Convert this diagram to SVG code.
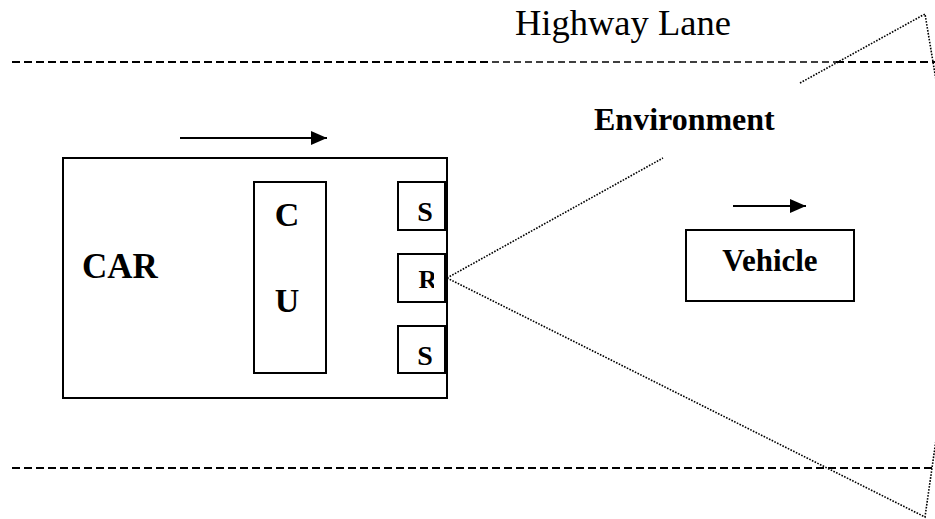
<svg xmlns="http://www.w3.org/2000/svg" width="935" height="519" viewBox="0 0 935 519">
<style>
.box{fill:#fff;stroke:#000;stroke-width:2}
.ln{stroke:#000;stroke-width:2;fill:none}
.lane{stroke:#000;stroke-width:2;stroke-dasharray:8 4;fill:none}
.lanethin{stroke:#000;stroke-width:1.4;stroke-dasharray:7 4;fill:none}
.dot{stroke:#000;stroke-width:1.6;stroke-dasharray:1.6 1.4;fill:none}
.b{font-family:"Liberation Serif","Times New Roman",serif;font-weight:bold;fill:#000}
.r{font-family:"Liberation Serif","Times New Roman",serif;fill:#000}
</style>
<defs>
<marker id="ah" viewBox="0 0 10 10" refX="10" refY="5" markerWidth="8" markerHeight="7" orient="auto" markerUnits="strokeWidth" preserveAspectRatio="none">
<path d="M0,0 L10,5 L0,10 Z" fill="#000"/>
</marker>
<clipPath id="rclip"><rect x="398" y="254" width="36" height="48"/></clipPath>
</defs>
<rect width="935" height="519" fill="#fff"/>
<g id="lanes">
<path class="lane" d="M12,62 H492"/>
<path class="lanethin" d="M492,62 H836"/>
<path class="lane" d="M836,62 H935"/>
<path class="lane" d="M12,468 H935"/>
</g>
<g id="highway-label"><text class="r" x="515" y="35" font-size="36.5">Highway Lane</text></g>
<g id="cone">
<path class="dot" d="M447,278 L663,158"/>
<path class="dot" d="M800,83 L925,14 L936,80"/>
<path class="dot" d="M447,278 L925,517 L936,440"/>
</g>
<g id="environment"><text class="b" x="594" y="130" font-size="32">Environment</text></g>
<g id="connectors">
<line class="ln" x1="180" y1="138" x2="327" y2="138" marker-end="url(#ah)"/>
<line class="ln" x1="733" y1="206" x2="806" y2="206" marker-end="url(#ah)"/>
<line class="ln" x1="326" y1="206" x2="398" y2="206"/>
<line class="ln" x1="326" y1="278" x2="398" y2="278"/>
<line class="ln" x1="326" y1="350" x2="398" y2="350"/>
</g>
<g id="car">
<rect class="box" x="63" y="158" width="384" height="240"/>
<text class="b" x="82" y="278" font-size="35">CAR</text>
</g>
<g id="cu">
<rect class="box" x="254" y="182" width="72" height="191"/>
<text class="b" x="287" y="226" font-size="34" text-anchor="middle">C</text>
<text class="b" x="287" y="312" font-size="34" text-anchor="middle">U</text>
</g>
<g id="sensor-top">
<rect class="box" x="398" y="182" width="47" height="48"/>
<text class="b" x="425" y="221" font-size="28" text-anchor="middle">S</text>
</g>
<g id="radar">
<rect class="box" x="398" y="254" width="47" height="48"/>
<text class="b" x="428" y="288" font-size="26" text-anchor="middle" clip-path="url(#rclip)">R</text>
</g>
<g id="sensor-bottom">
<rect class="box" x="398" y="326" width="47" height="47"/>
<text class="b" x="425" y="365" font-size="28" text-anchor="middle">S</text>
</g>
<g id="vehicle">
<rect class="box" x="686" y="230" width="168" height="71"/>
<text class="b" x="770" y="271" font-size="31" text-anchor="middle">Vehicle</text>
</g>
</svg>
